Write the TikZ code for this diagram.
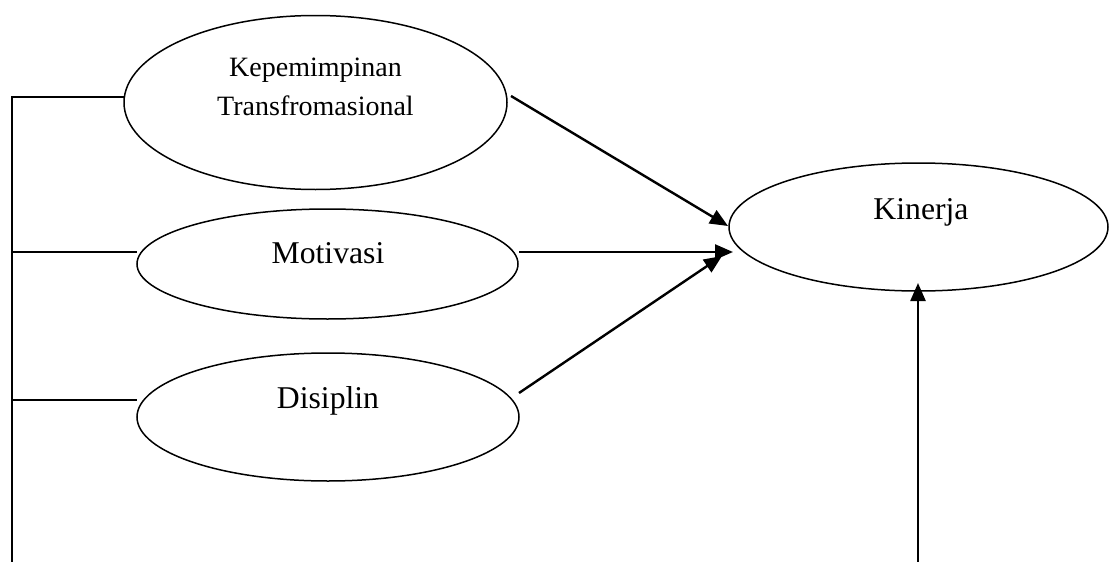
\documentclass[tikz,border=0pt]{standalone}
\usepackage{fontspec}
\setmainfont{Liberation Serif}
\usetikzlibrary{shapes.geometric,arrows.meta}
\tikzset{
  oval/.style={draw, ellipse, line width=1.5pt, inner sep=0pt},
  lbl/.style={anchor=base, inner sep=0pt, font=\fontsize{31.7}{38}\selectfont},
  lblsmall/.style={anchor=base, inner sep=0pt, font=\fontsize{28}{34}\selectfont},
  link/.style={line width=1.6pt},
  arr/.style={line width=2.4pt, -{Triangle[length=18pt,width=15pt]}}
}
\begin{document}
\begin{tikzpicture}[x=1pt,y=-1pt]
\useasboundingbox (0,0) rectangle (1109,562);
% ellipses
\node[oval, minimum width=383pt, minimum height=174pt] (K) at (315.5,102.5) {};
\node[oval, minimum width=381pt, minimum height=110pt] (M) at (327.5,264) {};
\node[oval, minimum width=382pt, minimum height=128pt] (D) at (328,417) {};
\node[oval, minimum width=379pt, minimum height=128pt] (Kin) at (918.5,227) {};
% texts
\node[lblsmall] (tK1) at (315.5,76) {Kepemimpinan};
\node[lblsmall] (tK2) at (315.5,115) {Transfromasional};
\node[lbl] (tM) at (328,263) {Motivasi};
\node[lbl] (tD) at (328,408) {Disiplin};
\node[lbl] (tKin) at (921,219) {Kinerja};
% left bracket
\coordinate (top) at (12,97);
\coordinate (bot) at (12,562);
\coordinate (mL) at (12,252);
\coordinate (dL) at (12,400);
\coordinate (kE) at (124,97);
\coordinate (mE) at (137,252);
\coordinate (dE) at (137,400);
\draw[link] (bot) -- (top) -- (kE);
\draw[link] (mL) -- (mE);
\draw[link] (dL) -- (dE);
% arrows
\coordinate (a1s) at (511,96);
\coordinate (a1e) at (728,226);
\coordinate (a2s) at (519,252);
\coordinate (a2e) at (733,252);
\coordinate (a3s) at (519,393);
\coordinate (a3e) at (722,256);
\coordinate (a4s) at (918,562);
\coordinate (a4e) at (918,283);
\draw[arr] (a1s) -- (a1e);
\draw[arr] (a2s) -- (a2e);
\draw[arr] (a3s) -- (a3e);
\draw[arr] (a4s) -- (a4e);
\end{tikzpicture}
\end{document}
